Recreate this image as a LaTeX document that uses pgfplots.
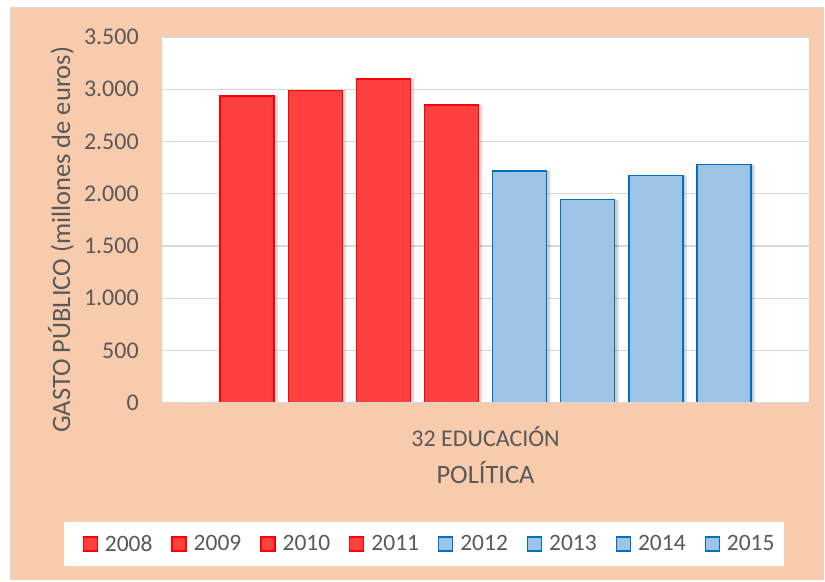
\documentclass[border=0pt]{standalone}
\usepackage{fontspec}
\setmainfont{Carlito}
\usepackage{pgfplots}
\pgfplotsset{compat=1.18}
\definecolor{peach}{HTML}{F8CBAD}
\definecolor{txt}{HTML}{595959}
\definecolor{gridc}{HTML}{D9D9D9}
\definecolor{redfill}{HTML}{FF4040}
\definecolor{redline}{HTML}{FF0000}
\definecolor{bluefill}{HTML}{9DC3E6}
\definecolor{blueline}{HTML}{0070C0}
\begin{document}
\begin{tikzpicture}[x=1pt,y=1pt]
\fill[white] (0,0) rectangle (825,581);
\fill[peach] (11,0) rectangle (825,573);
\draw[gridc, line width=1.5pt] (10.5,0) -- (10.5,573.5) -- (825,573.5);
\fill[white] (64,14) rectangle (785,59);
\begin{axis}[
  at={(162pt,178pt)}, anchor=south west,
  scale only axis, width=648pt, height=366pt,
  xmin=-1.25, xmax=8.25, ymin=0, ymax=3500,
  axis background/.style={fill=white},
  axis line style={draw=none},
  ytick={0,500,...,3500},
  ymajorgrids, grid style={gridc, line width=1.3pt},
  xtick={3.5}, xticklabels={32 EDUCACIÓN},
  major tick length=0pt,
  tick label style={text=txt, font=\fontsize{24}{28}\selectfont},
  /pgf/number format/.cd, 1000 sep={.}, assume math mode=true,
  /pgfplots/.cd,
  yticklabel style={anchor=east, inner sep=0pt, xshift=-23pt},
  xticklabel style={anchor=center, inner sep=0pt, yshift=-34pt},
  xlabel={POLÍTICA},
  ylabel={GASTO PÚBLICO (millones de euros)},
  xlabel style={at={(axis description cs:0.5,-0.1913)}, anchor=center, inner sep=0pt, text=txt, font=\fontsize{26.5}{30}\selectfont},
  ylabel style={at={(axis description cs:-0.1559,0.4454)}, anchor=center, inner sep=0pt, text=txt, font=\fontsize{26.5}{30}\selectfont},
  legend columns=8,
  legend style={at={(axis description cs:0.4135,-0.3866)}, anchor=center, draw=none, fill=none,
    text=txt, font=\fontsize{23.5}{27}\selectfont,
    /tikz/every even column/.append style={column sep=17pt},
    /tikz/every odd column/.append style={column sep=5pt},
    inner sep=0pt},
  legend image code/.code={\draw[#1, line width=1.3pt] (0pt,-7pt) rectangle (14pt,7pt);},
  bar width=54pt,
  clip=false,
]
% shadows
\addplot[ybar, bar shift=4pt, bar width=54pt, fill=black, opacity=0.12, draw=none, forget plot]
  coordinates {(0,2935) (1,2990) (2,3098) (3,2848) (4,2218) (5,1941) (6,2173) (7,2276)};
\addplot[ybar, bar shift=2pt, bar width=54pt, fill=black, opacity=0.10, draw=none, forget plot]
  coordinates {(0,2935) (1,2990) (2,3098) (3,2848) (4,2218) (5,1941) (6,2173) (7,2276)};
% bars
\addplot[ybar, bar shift=0pt, fill=redfill, draw=redline, line width=1.3pt] coordinates {(0,2935)};
\addlegendentry{2008}
\addplot[ybar, bar shift=0pt, fill=redfill, draw=redline, line width=1.3pt] coordinates {(1,2990)};
\addlegendentry{2009}
\addplot[ybar, bar shift=0pt, fill=redfill, draw=redline, line width=1.3pt] coordinates {(2,3098)};
\addlegendentry{2010}
\addplot[ybar, bar shift=0pt, fill=redfill, draw=redline, line width=1.3pt] coordinates {(3,2848)};
\addlegendentry{2011}
\addplot[ybar, bar shift=0pt, fill=bluefill, draw=blueline, line width=1.3pt] coordinates {(4,2218)};
\addlegendentry{2012}
\addplot[ybar, bar shift=0pt, fill=bluefill, draw=blueline, line width=1.3pt] coordinates {(5,1941)};
\addlegendentry{2013}
\addplot[ybar, bar shift=0pt, fill=bluefill, draw=blueline, line width=1.3pt] coordinates {(6,2173)};
\addlegendentry{2014}
\addplot[ybar, bar shift=0pt, fill=bluefill, draw=blueline, line width=1.3pt] coordinates {(7,2276)};
\addlegendentry{2015}
\draw[gridc, line width=1.3pt] (axis cs:-1.25,0) -- (axis cs:8.25,0);
\end{axis}
\end{tikzpicture}
\end{document}
